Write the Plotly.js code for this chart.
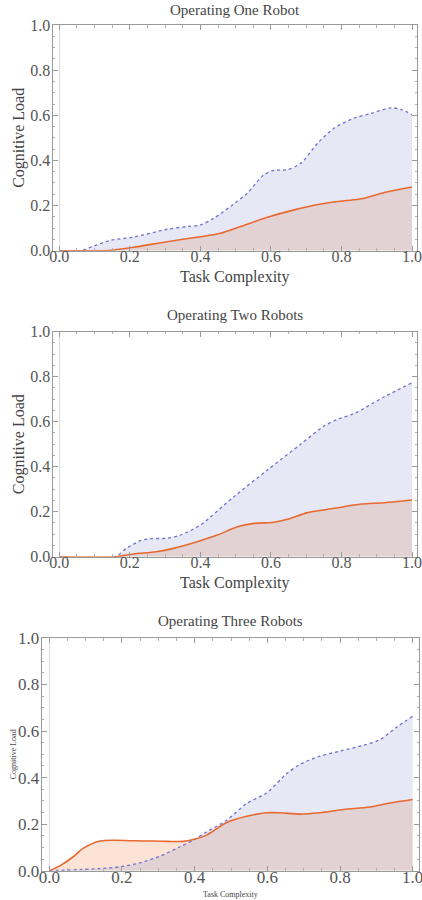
<!DOCTYPE html>
<html>
<head>
<meta charset="utf-8">
<script src="https://cdn.plot.ly/plotly-3.0.1.min.js"></script>
<style>html,body{margin:0;padding:0;background:#fff}#chart{width:422px;height:900px}</style>
</head>
<body>
<div id="chart"></div>
<script>
// ---------- data ----------
const titles = ["Operating One Robot", "Operating Two Robots", "Operating Three Robots"];
const xLabel = "Task Complexity";
const yLabel = "Cognitive Load";
const tickVals = [0, 0.2, 0.4, 0.6, 0.8, 1.0];
const tickText = ["0.0", "0.2", "0.4", "0.6", "0.8", "1.0"];

// Chart 1: one robot
const oneBlueX = [0, 0.06, 0.1, 0.145, 0.21, 0.306, 0.362, 0.40, 0.438, 0.495, 0.533, 0.58, 0.609, 0.647, 0.685, 0.733, 0.78, 0.837, 0.884, 0.941, 0.97, 1.0];
const oneBlueY = [0, 0, 0.022, 0.046, 0.06, 0.095, 0.107, 0.114, 0.144, 0.207, 0.255, 0.336, 0.356, 0.359, 0.388, 0.477, 0.544, 0.588, 0.608, 0.633, 0.625, 0.603];
const oneOrangeX = [0, 0.12, 0.154, 0.21, 0.306, 0.4, 0.457, 0.514, 0.59, 0.666, 0.742, 0.808, 0.856, 0.922, 1.0];
const oneOrangeY = [0, 0, 0.003, 0.015, 0.04, 0.062, 0.077, 0.107, 0.148, 0.181, 0.207, 0.221, 0.23, 0.258, 0.282];

// Chart 2: two robots
const twoBlueX = [0, 0.158, 0.19, 0.23, 0.258, 0.306, 0.343, 0.4, 0.495, 0.59, 0.685, 0.751, 0.789, 0.837, 0.922, 1.0];
const twoBlueY = [0, 0, 0.037, 0.071, 0.08, 0.082, 0.096, 0.141, 0.267, 0.385, 0.501, 0.581, 0.611, 0.637, 0.711, 0.773];
const twoOrangeX = [0, 0.16, 0.21, 0.275, 0.324, 0.4, 0.448, 0.505, 0.552, 0.609, 0.647, 0.704, 0.78, 0.856, 0.922, 1.0];
const twoOrangeY = [0, 0, 0.012, 0.022, 0.037, 0.071, 0.096, 0.133, 0.148, 0.153, 0.166, 0.196, 0.215, 0.234, 0.24, 0.252];

// Chart 3: three robots
const threeBlueX = [0, 0.14, 0.195, 0.25, 0.305, 0.36, 0.396, 0.433, 0.488, 0.543, 0.598, 0.653, 0.69, 0.745, 0.8, 0.864, 0.91, 0.956, 1.0];
const threeBlueY = [0, 0.009, 0.017, 0.034, 0.063, 0.103, 0.131, 0.167, 0.217, 0.289, 0.334, 0.417, 0.457, 0.492, 0.514, 0.539, 0.563, 0.617, 0.664];
const threeOrangeX = [0, 0.03, 0.066, 0.094, 0.14, 0.231, 0.323, 0.369, 0.396, 0.433, 0.488, 0.543, 0.598, 0.635, 0.69, 0.745, 0.81, 0.882, 0.937, 1.0];
const threeOrangeY = [0, 0.022, 0.06, 0.097, 0.128, 0.129, 0.126, 0.126, 0.134, 0.153, 0.207, 0.234, 0.249, 0.249, 0.243, 0.249, 0.263, 0.274, 0.291, 0.306];

// ---------- styles ----------
const W = 422, H = 900;
const FONT = "Liberation Serif";
const blueLine = "#6f6fd3";
const blueFill = "rgba(116,127,199,0.18)";
const orangeLine = "#e8692f";
const orangeFill = "rgba(235,120,50,0.2)";

const series = [
  {bx: oneBlueX, by: oneBlueY, ox: oneOrangeX, oy: oneOrangeY},
  {bx: twoBlueX, by: twoBlueY, ox: twoOrangeX, oy: twoOrangeY},
  {bx: threeBlueX, by: threeBlueY, ox: threeOrangeX, oy: threeOrangeY}
];

// pixel geometry of each panel: frame left/right/top/bottom, x=0 px, x=1 px
const panels = [
  {l: 52.5, r: 417, t: 25, b: 250.7, x0: 59.3, x1: 412, tick: 16, xShift: 0, titleY: 10, xtY: 277, ytX: 19, axFont: 16},
  {l: 52.5, r: 417, t: 331.7, b: 556.7, x0: 59.3, x1: 412, tick: 16, xShift: 0, titleY: 315, xtY: 583, ytX: 19, axFont: 16},
  {l: 41.7, r: 419, t: 638, b: 870.7, x0: 49.3, x1: 412.7, tick: 17, xShift: -1.5, titleY: 620.7, xtY: 894, ytX: 13, axFont: 8}
];

const data = [];
const layout = {
  width: W, height: H,
  margin: {l: 0, r: 0, t: 0, b: 0},
  paper_bgcolor: "#fff", plot_bgcolor: "#fff",
  showlegend: false,
  annotations: []
};

panels.forEach((p, i) => {
  const n = i === 0 ? "" : String(i + 1);
  const xa = "x" + n, ya = "y" + n;
  const s = series[i];
  const scale = p.x1 - p.x0;
  const xr = [(p.l - p.x0) / scale, 1 + (p.r - p.x1) / scale];
  const common = {
    showgrid: false, showline: true, linecolor: "#9a9a9a", linewidth: 1,
    mirror: "ticks", ticks: "inside", ticklen: 5, tickwidth: 1, tickcolor: "#9a9a9a",
    tickvals: tickVals, ticktext: tickText,
    tickfont: {family: FONT, size: p.tick, color: "#555"},
    ticklabeloverflow: "allow",
    minor: {ticks: "inside", ticklen: 2.5, tickcolor: "#b0b0b0", dtick: 0.05, tick0: 0, showgrid: false},
    fixedrange: true
  };
  layout["xaxis" + n] = Object.assign({}, common, {
    domain: [p.l / W, p.r / W], range: xr, anchor: ya,
    ticklabelstandoff: -9, ticklabelshift: p.xShift,
    zeroline: true, zerolinecolor: "#dcdcdc", zerolinewidth: 1
  });
  layout["yaxis" + n] = Object.assign({}, common, {
    domain: [1 - p.b / H, 1 - p.t / H], range: [0, 1], anchor: xa, zeroline: false,
    ticklabelstandoff: -2
  });

  // fills first (orange then blue), lines on top
  data.push({x: s.ox, y: s.oy, xaxis: xa, yaxis: ya, type: "scatter", mode: "lines",
    line: {width: 0, shape: "spline", smoothing: 0.8}, fill: "tozeroy", fillcolor: orangeFill, hoverinfo: "skip"});
  data.push({x: s.bx, y: s.by, xaxis: xa, yaxis: ya, type: "scatter", mode: "lines",
    line: {width: 0, shape: "spline", smoothing: 0.8}, fill: "tozeroy", fillcolor: blueFill, hoverinfo: "skip"});
  data.push({x: s.bx, y: s.by, xaxis: xa, yaxis: ya, type: "scatter", mode: "lines",
    line: {color: blueLine, width: 1.3, dash: "dot", shape: "spline", smoothing: 0.8}});
  data.push({x: s.ox, y: s.oy, xaxis: xa, yaxis: ya, type: "scatter", mode: "lines",
    line: {color: orangeLine, width: 1.6, shape: "spline", smoothing: 0.8}});

  const cx = (p.l + p.r) / 2 / W;
  layout.annotations.push({text: titles[i], xref: "paper", yref: "paper", x: cx, y: 1 - p.titleY / H,
    xanchor: "center", yanchor: "middle", showarrow: false, font: {family: FONT, size: 15, color: "#444"}});
  layout.annotations.push({text: xLabel, xref: "paper", yref: "paper", x: cx, y: 1 - p.xtY / H,
    xanchor: "center", yanchor: "middle", showarrow: false, font: {family: FONT, size: p.axFont, color: "#444"}});
  layout.annotations.push({text: yLabel, xref: "paper", yref: "paper", x: p.ytX / W, y: 1 - (p.t + p.b) / 2 / H,
    xanchor: "center", yanchor: "middle", textangle: -90, showarrow: false, font: {family: FONT, size: p.axFont, color: "#444"}});
});

Plotly.newPlot("chart", data, layout, {displayModeBar: false, staticPlot: true});
</script>
</body>
</html>
